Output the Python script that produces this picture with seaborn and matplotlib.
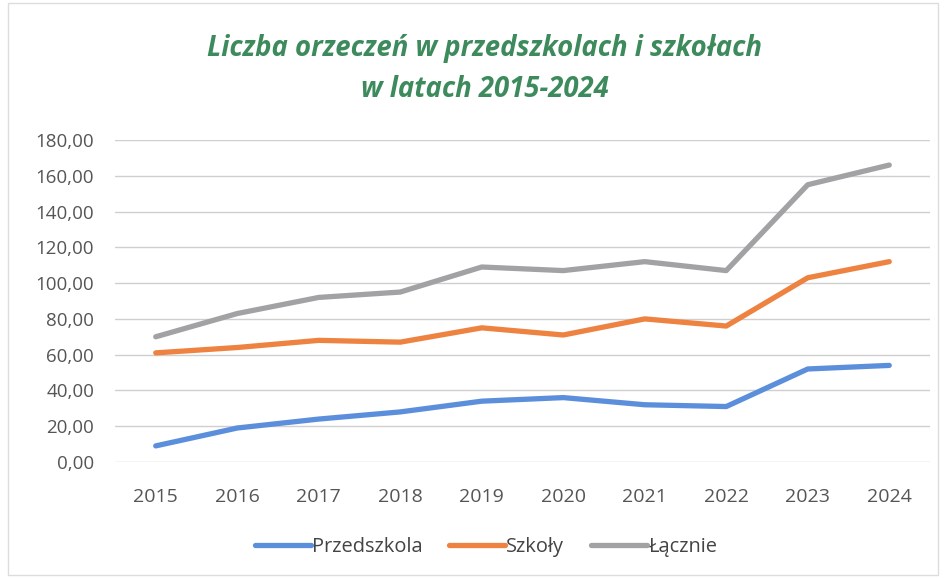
import matplotlib
matplotlib.use("Agg")
import matplotlib.pyplot as plt
import seaborn as sns
import pandas as pd
from matplotlib.ticker import FuncFormatter, MultipleLocator

years = [2015, 2016, 2017, 2018, 2019, 2020, 2021, 2022, 2023, 2024]
przedszkola = [9, 19, 24, 28, 34, 36, 32, 31, 52, 54]
szkoly = [61, 64, 68, 67, 75, 71, 80, 76, 103, 112]
lacznie = [70, 83, 92, 95, 109, 107, 112, 107, 155, 166]
series_names = ["Przedszkola", "Szkoły", "Łącznie"]
title = "Liczba orzeczeń w przedszkolach i szkołach\nw latach 2015-2024"

sns.set_theme(style="white")
plt.rcParams['font.family'] = ['Open Sans', 'DejaVu Sans']

df = pd.DataFrame({
    "Rok": [str(y) for y in years] * 3,
    "Wartość": przedszkola + szkoly + lacznie,
    "Seria": [series_names[0]] * 10 + [series_names[1]] * 10 + [series_names[2]] * 10,
})
df["x"] = list(range(10)) * 3

palette = {"Przedszkola": "#5b8fdc", "Szkoły": "#ee8240", "Łącznie": "#a2a2a4"}

fig = plt.figure(figsize=(9.45, 5.78), dpi=100)
ax = fig.add_axes([115/945, 1 - 462/578, 815/945, 322/578])

sns.lineplot(data=df, x="x", y="Wartość", hue="Seria", palette=palette,
             linewidth=3.8, ax=ax, legend=True, solid_capstyle="round")

ax.set_xlim(-0.5, 9.5)
ax.set_ylim(0, 180)
ax.yaxis.set_major_locator(MultipleLocator(20))
ax.yaxis.set_major_formatter(FuncFormatter(lambda v, p: f"{v:.2f}".replace(".", ",")))
ax.set_xticks(range(10))
ax.set_xticklabels([str(y) for y in years])
ax.grid(axis="y", color="#cfcfcf", linewidth=1.0)
ax.set_axisbelow(True)
for s in ax.spines.values():
    s.set_visible(False)
ax.tick_params(axis="both", length=0, labelcolor="#555555")
ax.tick_params(axis="x", pad=19, labelsize=14)
ax.tick_params(axis="y", pad=15, labelsize=13.5)
ax.set_xlabel("")
ax.set_ylabel("")

handles, labels = ax.get_legend_handles_labels()
ax.legend(handles, labels, loc="center", bbox_to_anchor=(486/945, (578 - 547) / 578),
          bbox_transform=fig.transFigure, ncol=3, frameon=False,
          fontsize=14.4, labelcolor="#444444", handlelength=2.8,
          handletextpad=0.05, columnspacing=1.35)

fig.text(485/945, 1 - 69/578, title, ha="center", va="center", fontsize=19.8,
         fontweight="bold", fontstyle="italic", color="#3d8a5c", linespacing=1.55)

fig.patches.append(plt.Rectangle((8/945, 0.005), 930/945, 0.99, transform=fig.transFigure,
                                 fill=False, edgecolor="#dddddd", linewidth=1))

fig.savefig("out.png", dpi=100)
